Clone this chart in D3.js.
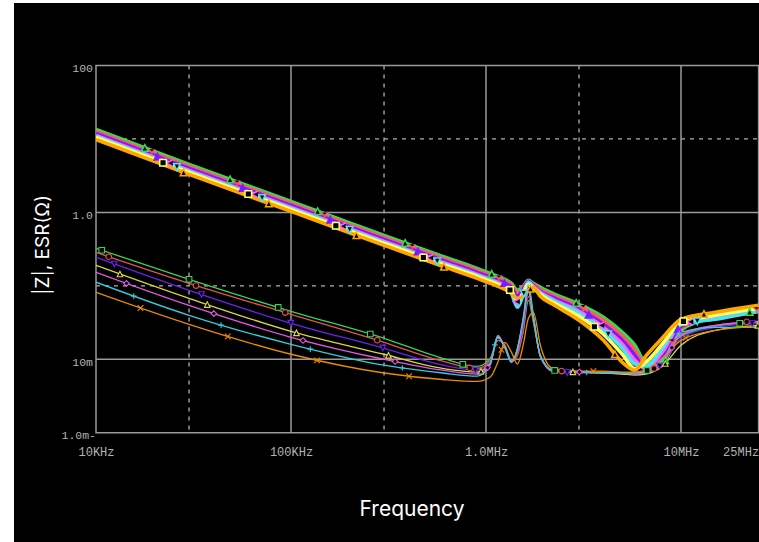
<!DOCTYPE html>
<html>
<head>
<meta charset="utf-8">
<script src="https://cdn.jsdelivr.net/npm/d3@7"></script>
<style>
    html, body { margin: 0; padding: 0; background: #fff; }
    svg { display: block; }
</style>
</head>
<body>
<svg id="chart" width="759" height="542"></svg>
<script>
// sweep points shared by every trace (Hz)
var frequencies = [1e4, 3e4, 1e5, 3e5, 6e5, 9e5, 1.05e6, 1.15e6, 1.25e6, 1.35e6, 1.45e6, 1.55e6, 1.65e6,
    1.75e6, 1.9e6, 2.2e6, 3e6, 4e6, 5e6, 5.8e6, 6.6e6, 8e6, 1e7, 1.5e7, 2.5e7];

// |Z| traces (ohm)
var zGreen   = [13.46, 4.50, 1.411, 0.486, 0.252, 0.173, 0.148, 0.1346, 0.1226, 0.1081, 0.0868, 0.0984, 0.1188, 0.1081, 0.0954, 0.0791, 0.0560, 0.0373, 0.0233, 0.0155, 0.0091, 0.0091, 0.0248, 0.0373, 0.0450];
var zRed     = [12.64, 4.23, 1.326, 0.457, 0.2366, 0.1625, 0.1389, 0.1265, 0.1151, 0.1016, 0.0791, 0.0954, 0.1151, 0.1048, 0.0896, 0.0743, 0.0526, 0.0339, 0.0206, 0.0133, 0.0080, 0.0097, 0.0264, 0.0385, 0.0464];
var zBlue    = [11.88, 3.97, 1.245, 0.429, 0.2223, 0.1527, 0.1305, 0.1188, 0.1081, 0.0954, 0.0719, 0.0896, 0.1151, 0.1016, 0.0841, 0.0698, 0.0479, 0.0299, 0.0181, 0.0113, 0.0073, 0.0110, 0.0281, 0.0373, 0.0464];
var zMagenta = [11.15, 3.73, 1.170, 0.403, 0.2088, 0.1434, 0.1226, 0.1116, 0.1016, 0.0868, 0.0596, 0.0815, 0.1116, 0.0984, 0.0815, 0.0655, 0.0450, 0.0272, 0.0160, 0.0097, 0.0075, 0.01245, 0.0299, 0.0361, 0.0450];
var zCyan    = [10.81, 3.61, 1.133, 0.391, 0.2024, 0.1389, 0.1188, 0.1081, 0.0954, 0.0791, 0.0510, 0.0743, 0.1116, 0.0954, 0.0791, 0.0634, 0.0422, 0.0248, 0.0141, 0.0086, 0.0080, 0.0141, 0.0299, 0.0350, 0.0450];
var zYellow  = [10.48, 3.50, 1.098, 0.379, 0.1961, 0.1346, 0.1151, 0.1048, 0.0954, 0.0841, 0.0634, 0.0791, 0.1048, 0.0925, 0.0766, 0.0596, 0.0385, 0.0219, 0.0117, 0.0075, 0.0091, 0.0160, 0.0319, 0.0397, 0.0494];
var zOrange  = [9.84, 3.29, 1.032, 0.356, 0.1842, 0.1265, 0.1081, 0.0984, 0.0896, 0.0791, 0.0676, 0.0719, 0.0868, 0.0954, 0.0719, 0.0560, 0.0339, 0.0181, 0.0091, 0.0071, 0.0110, 0.0193, 0.0350, 0.0436, 0.0542];

// ESR traces (ohm)
var esrGreen   = [0.324, 0.1226, 0.0450, 0.0193, 0.0103, 0.0080, 0.0103, 0.0181, 0.0155, 0.0097, 0.01245, 0.0233, 0.0634, 0.0319, 0.0113, 0.0071, 0.0067, 0.0067, 0.0065, 0.0065, 0.0069, 0.0097, 0.0206, 0.0281, 0.0319];
var esrRed     = [0.285, 0.108, 0.0409, 0.0170, 0.0094, 0.0075, 0.0097, 0.0181, 0.0150, 0.0094, 0.0113, 0.0248, 0.0719, 0.0339, 0.0113, 0.0071, 0.0067, 0.0065, 0.0065, 0.0063, 0.0067, 0.0091, 0.0219, 0.0290, 0.0329];
var esrBlue    = [0.244, 0.0868, 0.0309, 0.0141, 0.0083, 0.0071, 0.0091, 0.0193, 0.0155, 0.0091, 0.0133, 0.0281, 0.0815, 0.0361, 0.0110, 0.0069, 0.0065, 0.0065, 0.0063, 0.0063, 0.0065, 0.0086, 0.0193, 0.0272, 0.0309];
var esrYellow  = [0.190, 0.0675, 0.0240, 0.0117, 0.0075, 0.0067, 0.0088, 0.0199, 0.0150, 0.0091, 0.0141, 0.0339, 0.0868, 0.0361, 0.0110, 0.0069, 0.0067, 0.0065, 0.0063, 0.0061, 0.0063, 0.0080, 0.0155, 0.0248, 0.0290];
var esrMagenta = [0.153, 0.0542, 0.0199, 0.0100, 0.0071, 0.0063, 0.0086, 0.0212, 0.0146, 0.0091, 0.0133, 0.0319, 0.0924, 0.0385, 0.0110, 0.0069, 0.0067, 0.0067, 0.0065, 0.0063, 0.0065, 0.0088, 0.0212, 0.0290, 0.0329];
var esrCyan    = [0.112, 0.0397, 0.0160, 0.0083, 0.0065, 0.0059, 0.0083, 0.0206, 0.0141, 0.0094, 0.0141, 0.0361, 0.1048, 0.0397, 0.0110, 0.0071, 0.0067, 0.0065, 0.0065, 0.0065, 0.0069, 0.0097, 0.0233, 0.0272, 0.0272];
var esrOrange  = [0.0815, 0.0299, 0.0117, 0.0065, 0.0053, 0.0050, 0.0057, 0.0091, 0.0170, 0.0125, 0.0086, 0.0155, 0.0361, 0.0436, 0.0155, 0.0075, 0.0069, 0.0069, 0.0067, 0.0067, 0.0071, 0.0103, 0.0181, 0.0248, 0.0281];

// where the trace markers sit (Hz), before each trace's own shift
var zMarkerFreqs = [17.8e3, 48.7e3, 137e3, 385e3, 1.07e6, 2.9e6, 8.3e6, 22.5e6];
var esrMarkerFreqs = [10.7e3, 30e3, 86e3, 255e3, 760e3, 2.25e6, 6.7e6, 20e6];
var markerShift = [1, 1.086, 1.16, 1.24, 1.34, 1.46, 1.58];

var xTickValues = [1e4, 1e5, 1e6, 1e7, 2.5e7];
var xTickLabels = ['10KHz', '100KHz', '1.0MHz', '10MHz', '25MHz'];
var yTickValues = [100, 1, 0.01, 0.001];
var yTickLabels = ['100', '1.0', '10m', '1.0m-'];
var xSolidGrid = [1e5, 1e6, 1e7];
var xDashedGrid = [3e4, 3e5, 3e6];
var ySolidGrid = [1, 0.01];
var yDashedGrid = [10, 0.1];

(function(d3) {
    'use strict';

    var plotLeft = 96, plotRight = 758.6, plotTop = 65.5, plotBottom = 432.7;
    var gridColor = '#9a9a9a';
    var labelColor = '#b4b4b4';

    var svg = d3.select('#chart');

    svg.append('rect')
        .attr('x', 14).attr('y', 3)
        .attr('width', 745).attr('height', 539)
        .attr('fill', '#000');

    var scaleX = d3.scaleLog().domain([1e4, 2.5e7]).range([plotLeft, plotRight]);
    var scaleY = d3.scaleLog().domain([1e-3, 100]).range([plotBottom, plotTop]);

    function markerPath(shape, s) {
        switch (shape) {
            case 'square':  return 'M' + -s + ',' + -s + 'H' + s + 'V' + s + 'H' + -s + 'Z';
            case 'circle':  return 'M' + s + ',0A' + s + ',' + s + ' 0 1,1 ' + -s + ',0A' + s + ',' + s + ' 0 1,1 ' + s + ',0Z';
            case 'triDown': return 'M' + -s + ',' + -s + 'L' + s + ',' + -s + 'L0,' + s + 'Z';
            case 'triUp':   return 'M0,' + -s + 'L' + s + ',' + s + 'L' + -s + ',' + s + 'Z';
            case 'diamond': return 'M0,' + -s + 'L' + s + ',0L0,' + s + 'L' + -s + ',0Z';
            case 'plus':    return 'M' + -s + ',0H' + s + 'M0,' + -s + 'V' + s;
            case 'cross':   return 'M' + -s + ',' + -s + 'L' + s + ',' + s + 'M' + s + ',' + -s + 'L' + -s + ',' + s;
            case 'wye':     return 'M' + -s + ',' + -s + 'L0,0L' + s + ',' + -s + 'M0,0V' + s;
            case 'chevron': return 'M' + s + ',' + -s + 'L' + -s + ',0L' + s + ',' + s;
        }
        return '';
    }

    // binary search along a drawn trace for the point at a given x
    function pointOnPath(node, x) {
        var lo = 0, hi = node.getTotalLength();
        for (var i = 0; i < 32; i++) {
            var mid = (lo + hi) / 2;
            if (node.getPointAtLength(mid).x < x) { lo = mid; } else { hi = mid; }
        }
        return node.getPointAtLength((lo + hi) / 2);
    }

    // grid
    var grid = svg.append('g').attr('class', 'grid');

    grid.selectAll('.vsolid').data(xSolidGrid).enter().append('line')
        .attr('x1', scaleX).attr('x2', scaleX)
        .attr('y1', plotTop).attr('y2', plotBottom)
        .attr('stroke', gridColor).attr('stroke-width', 1.5);

    grid.selectAll('.vdash').data(xDashedGrid).enter().append('line')
        .attr('x1', scaleX).attr('x2', scaleX)
        .attr('y1', plotTop).attr('y2', plotBottom)
        .attr('stroke', '#b0b0b0').attr('stroke-width', 1.3)
        .attr('stroke-dasharray', '4,5');

    grid.selectAll('.hsolid').data(ySolidGrid).enter().append('line')
        .attr('x1', plotLeft).attr('x2', plotRight)
        .attr('y1', scaleY).attr('y2', scaleY)
        .attr('stroke', gridColor).attr('stroke-width', 1.5);

    grid.selectAll('.hdash').data(yDashedGrid).enter().append('line')
        .attr('x1', plotLeft).attr('x2', plotRight)
        .attr('y1', scaleY).attr('y2', scaleY)
        .attr('stroke', '#b0b0b0').attr('stroke-width', 1.3)
        .attr('stroke-dasharray', '4,5');

    grid.append('path')
        .attr('d', 'M' + plotLeft + ',' + plotTop + 'H' + plotRight + 'V' + plotBottom + 'H' + plotLeft + 'Z')
        .attr('fill', 'none')
        .attr('stroke', gridColor).attr('stroke-width', 1.5);

    // axes: only the labels are wanted
    var xAxis = d3.axisBottom(scaleX)
        .tickValues(xTickValues)
        .tickSize(0)
        .tickFormat(function (d, i) { return xTickLabels[i]; });

    svg.append('g')
        .attr('transform', 'translate(0,' + plotBottom + ')')
        .call(xAxis)
        .call(function (g) {
            g.select('.domain').remove();
            g.selectAll('.tick text')
                .attr('y', 15)
                .attr('fill', labelColor)
                .style('font-family', '"Liberation Mono", "DejaVu Sans Mono", monospace')
                .style('font-size', '12px');
            g.selectAll('.tick').filter(function (d) { return d === 2.5e7; })
                .select('text').attr('x', -18);
        });

    var yAxis = d3.axisLeft(scaleY)
        .tickValues(yTickValues)
        .tickSize(0)
        .tickFormat(function (d, i) { return yTickLabels[i]; });

    svg.append('g')
        .attr('transform', 'translate(' + plotLeft + ',0)')
        .call(yAxis)
        .call(function (g) {
            g.select('.domain').remove();
            g.selectAll('.tick text')
                .attr('x', -3)
                .attr('dy', '0.5em')
                .attr('fill', labelColor)
                .style('font-family', '"Liberation Mono", "DejaVu Sans Mono", monospace')
                .style('font-size', '11.5px');
            g.selectAll('.tick').filter(function (d) { return d === 0.001; })
                .select('text').attr('x', 0);
        });

    // traces
    svg.append('clipPath').attr('id', 'plotClip')
        .append('rect')
        .attr('x', plotLeft).attr('y', plotTop)
        .attr('width', plotRight - plotLeft).attr('height', plotBottom - plotTop);

    var plot = svg.append('g').attr('clip-path', 'url(#plotClip)');

    var line = d3.line()
        .x(function (d, i) { return scaleX(frequencies[i]); })
        .y(function (d) { return scaleY(d); })
        .curve(d3.curveMonotoneX);

    var zTraces = [
        {values: zGreen,   color: '#38d858', marker: 'triUp',   shift: markerShift[0], filled: false},
        {values: zRed,     color: '#ff5858', marker: 'wye',     shift: markerShift[1], filled: false},
        {values: zBlue,    color: '#7a1cff', marker: 'triUp',   shift: markerShift[2], filled: true},
        {values: zMagenta, color: '#ff66ff', marker: 'chevron', shift: markerShift[4], filled: false},
        {values: zCyan,    color: '#48e4f0', marker: 'triDown', shift: markerShift[5], filled: false},
        {values: zYellow,  color: '#ffff66', marker: 'square',  shift: markerShift[3], filled: false},
        {values: zOrange,  color: '#ffa500', marker: 'triUp',   shift: markerShift[6], filled: false}
    ];

    var esrTraces = [
        {values: esrGreen,   color: '#34d454', marker: 'square',  shift: markerShift[0]},
        {values: esrRed,     color: '#e85050', marker: 'circle',  shift: markerShift[1]},
        {values: esrBlue,    color: '#6a22f0', marker: 'triDown', shift: markerShift[2]},
        {values: esrYellow,  color: '#dcd448', marker: 'triUp',   shift: markerShift[3]},
        {values: esrMagenta, color: '#e858e8', marker: 'diamond', shift: markerShift[4]},
        {values: esrCyan,    color: '#34cede', marker: 'plus',    shift: markerShift[5]},
        {values: esrOrange,  color: '#e88c00', marker: 'cross',   shift: markerShift[6]}
    ];

    zTraces.forEach(function (t) {
        t.path = plot.append('path')
            .datum(t.values)
            .attr('d', line)
            .attr('fill', 'none')
            .attr('stroke', t.color)
            .attr('stroke-width', 3.6);
    });

    esrTraces.forEach(function (t) {
        t.path = plot.append('path')
            .datum(t.values)
            .attr('d', line)
            .attr('fill', 'none')
            .attr('stroke', t.color)
            .attr('stroke-width', 1.3);
    });

    function drawMarkers(traces, freqs, size, strokeWidth) {
        traces.forEach(function (t) {
            var node = t.path.node();
            freqs.forEach(function (f) {
                var freq = f * t.shift;
                if (freq > 2.5e7) { return; }
                var p = pointOnPath(node, scaleX(freq));
                plot.append('path')
                    .attr('transform', 'translate(' + p.x + ',' + p.y + ')')
                    .attr('d', markerPath(t.marker, size))
                    .attr('fill', t.filled ? t.color : '#000')
                    .attr('stroke', t.color)
                    .attr('stroke-width', strokeWidth);
            });
        });
    }

    drawMarkers(zTraces, zMarkerFreqs, 3.3, 1.5);
    drawMarkers(esrTraces, esrMarkerFreqs, 2.8, 1.1);

    // titles
    svg.append('text')
        .attr('transform', 'translate(42,245) rotate(-90)')
        .attr('text-anchor', 'middle')
        .attr('dominant-baseline', 'central')
        .attr('fill', '#fff')
        .style('font-family', 'Inter, "Noto Sans", sans-serif')
        .style('font-size', '19px')
        .text('|Z|, ESR(Ω)');

    svg.append('text')
        .attr('x', 412)
        .attr('y', 516)
        .attr('text-anchor', 'middle')
        .attr('fill', '#fff')
        .style('font-family', 'Inter, "Noto Sans", sans-serif')
        .style('font-size', '21px')
        .text('Frequency');

}(window.d3));
</script>
</body>
</html>
